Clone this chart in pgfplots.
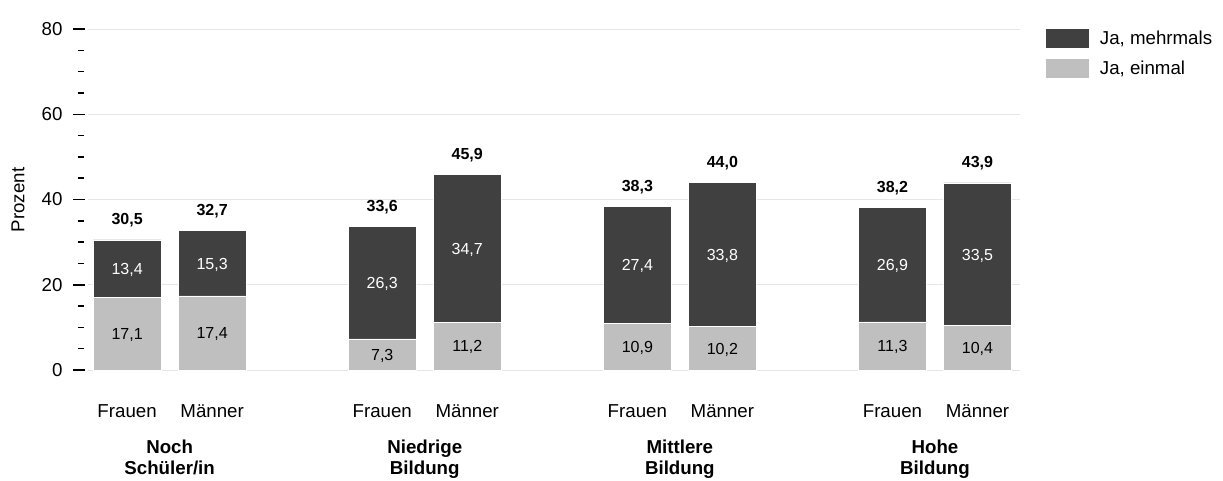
\documentclass[border=0pt]{standalone}
\usepackage{fontspec}
\setmainfont{Liberation Sans}
\usepackage{pgfplots}
\pgfplotsset{compat=1.18}
\usepackage{pgfplotstable}

\definecolor{dunkel}{HTML}{404040}
\definecolor{hell}{HTML}{BFBFBF}
\definecolor{gitter}{HTML}{E6E6E6}

% Anteile in Prozent
\pgfplotstableread{
x  einmal mehrmals gesamt
0  17.1   13.4     30.5
1  17.4   15.3     32.7
3  7.3    26.3     33.6
4  11.2   34.7     45.9
6  10.9   27.4     38.3
7  10.2   33.8     44.0
9  11.3   26.9     38.2
10 10.4   33.5     43.9
}\daten

\newcommand{\gross}{\fontsize{18.7}{21}\selectfont}
\newcommand{\klein}{\fontsize{16}{18}\selectfont}

\pgfplotsset{
  rahmen/.style={
    at={(88pt,110pt)}, anchor=south west,
    scale only axis, width=932pt, height=341pt,
    xmin=-0.46, xmax=10.5, ymin=0, ymax=80, clip=false},
}

\begin{document}
\begin{tikzpicture}
\useasboundingbox (0,0) rectangle (1223pt,480pt);
\begin{axis}[
  rahmen,
  ybar stacked, bar width=68pt,
  axis line style={draw=none},
  xtick={0,1,3,4,6,7,9,10},
  xticklabels={Frauen,Männer,Frauen,Männer,Frauen,Männer,Frauen,Männer},
  xtick style={draw=none},
  xticklabel style={anchor=base, yshift=-35pt},
  ytick={0,20,40,60,80},
  ytick pos=left,
  minor y tick num=3,
  tick align=outside,
  major tick length=12pt, minor tick length=6pt,
  ytick style={black, line width=1.5pt},
  every major tick/.append style={xshift=-3pt},
  every minor tick/.append style={xshift=-4.5pt, black, line width=1.5pt},
  yticklabel style={xshift=-10pt},
  tick label style={font=\gross},
  /pgf/number format/assume math mode=true,
  ymajorgrids, grid style={gitter, line width=1pt},
  legend style={at={(1.028,1)}, anchor=north west, draw=none, fill=none,
    inner sep=0pt, font=\gross, row sep=11pt,
    nodes={inner sep=0pt}},
  legend cell align=left,
  reverse legend,
]
\addplot[fill=hell, draw=white, line width=0.6pt,
  legend image code/.code={\fill[hell] (0pt,-9pt) rectangle (42pt,9pt);}]
  table[x=x, y=einmal] {\daten};
\addlegendentry{\hspace{11pt}Ja, einmal}
\addplot[fill=dunkel, draw=white, line width=0.6pt,
  legend image code/.code={\fill[dunkel] (0pt,-9pt) rectangle (42pt,9pt);}]
  table[x=x, y=mehrmals] {\daten};
\addlegendentry{\hspace{11pt}Ja, mehrmals}

% Gruppenbeschriftung
\node[font=\gross\bfseries, anchor=base, yshift=-83pt] at (axis cs:0.5,0) {Noch};
\node[font=\gross\bfseries, anchor=base, yshift=-104pt] at (axis cs:0.5,0) {Schüler/in};
\node[font=\gross\bfseries, anchor=base, yshift=-83pt] at (axis cs:3.5,0) {Niedrige};
\node[font=\gross\bfseries, anchor=base, yshift=-104pt] at (axis cs:3.5,0) {Bildung};
\node[font=\gross\bfseries, anchor=base, yshift=-83pt] at (axis cs:6.5,0) {Mittlere};
\node[font=\gross\bfseries, anchor=base, yshift=-104pt] at (axis cs:6.5,0) {Bildung};
\node[font=\gross\bfseries, anchor=base, yshift=-83pt] at (axis cs:9.5,0) {Hohe};
\node[font=\gross\bfseries, anchor=base, yshift=-104pt] at (axis cs:9.5,0) {Bildung};
\end{axis}

% Wertebeschriftung
\begin{axis}[
  rahmen, hide axis,
  nodes near coords={\pgfmathprintnumber[use comma,fixed,fixed zerofill,precision=1,assume math mode=true]{\pgfplotspointmeta}},
  point meta=explicit,
]
\addplot[only marks, mark=none,
  every node near coord/.style={font=\klein, text=black, anchor=base, yshift=-5.8pt}]
  table[x=x, y expr=\thisrow{einmal}/2, meta=einmal] {\daten};
\addplot[only marks, mark=none,
  every node near coord/.style={font=\klein, text=white, anchor=base, yshift=-5.8pt}]
  table[x=x, y expr=\thisrow{einmal}+\thisrow{mehrmals}/2, meta=mehrmals] {\daten};
\addplot[only marks, mark=none,
  every node near coord/.style={font=\klein\bfseries, text=black, anchor=base, yshift=15pt}]
  table[x=x, y=gesamt, meta=gesamt] {\daten};
\end{axis}
\node[rotate=90, font=\gross] at (18pt,280pt) {Prozent};
\end{tikzpicture}
\end{document}
